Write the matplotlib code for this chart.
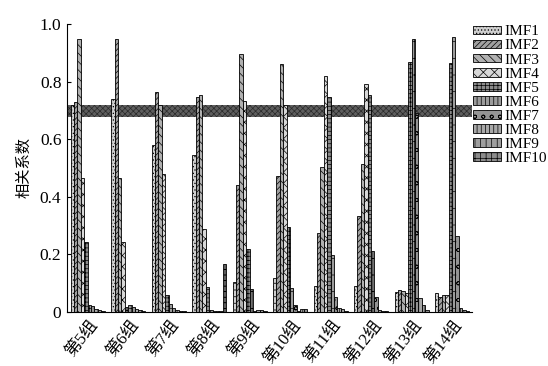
import numpy as np
import matplotlib
matplotlib.use('Agg')
import matplotlib.pyplot as plt

plt.rcParams['font.family'] = ['Liberation Serif', 'Noto Sans CJK SC']
plt.rcParams['hatch.linewidth'] = 0.5

groups = ['第5组', '第6组', '第7组', '第8组', '第9组',
          '第10组', '第11组', '第12组', '第13组', '第14组']
imf_names = ['IMF1', 'IMF2', 'IMF3', 'IMF4', 'IMF5',
             'IMF6', 'IMF7', 'IMF8', 'IMF9', 'IMF10']

# correlation of each IMF per group
g5 = [0.72, 0.73, 0.948, 0.465, 0.243, 0.024, 0.02, 0.012, 0.008, 0.004]
g6 = [0.74, 0.948, 0.465, 0.243, 0.019, 0.024, 0.017, 0.01, 0.006, 0.003]
g7 = [0.58, 0.763, 0.72, 0.478, 0.059, 0.028, 0.015, 0.008, 0.004, 0.002]
g8 = [0.545, 0.745, 0.753, 0.288, 0.087, 0.008, 0.005, 0.004, 0.003, 0.165]
g9 = [0.105, 0.44, 0.897, 0.733, 0.218, 0.08, 0.005, 0.008, 0.008, 0.004]
g10 = [0.118, 0.472, 0.86, 0.718, 0.294, 0.085, 0.024, 0.005, 0.01, 0.01]
g11 = [0.09, 0.274, 0.503, 0.818, 0.745, 0.198, 0.053, 0.013, 0.01, 0.005]
g12 = [0.09, 0.333, 0.515, 0.79, 0.753, 0.213, 0.053, 0.006, 0.003, 0.002]
g13 = [0.068, 0.075, 0.072, 0.065, 0.868, 0.948, 0.69, 0.048, 0.025, 0.007]
g14 = [0.067, 0.053, 0.058, 0.06, 0.863, 0.954, 0.265, 0.015, 0.007, 0.005]

band_low, band_high = 0.677, 0.719

vals = np.array([g5, g6, g7, g8, g9, g10, g11, g12, g13, g14])

faces = ['#cfcfcf', '#a0a0a0', '#b0b0b0', '#d8d8d8', '#8a8a8a',
         '#9c9c9c', '#949494', '#a8a8a8', '#9e9e9e', '#8c8c8c']
hatches = ['.....', '//////', '\\\\\\\\', 'xxx', '++++',
           '|||+', 'oo', '||||', '|||', '+++']

fig = plt.figure(figsize=(5.48, 3.66), dpi=100)
ax = fig.add_axes([0.1223, 0.1475, 0.7387, 0.787])

x = np.arange(len(groups))
w = 0.084
ax.axhspan(band_low, band_high, facecolor='#5e5e5e', edgecolor='#2a2a2a',
           hatch='xxxxxx', linewidth=0, zorder=1)
for j in range(10):
    ax.bar(x + (j - 4.5) * w, vals[:, j], width=w, facecolor=faces[j],
           edgecolor='black', hatch=hatches[j], linewidth=0.6,
           label=imf_names[j], zorder=2)

ax.set_xlim(-0.51, 9.49)
ax.set_ylim(0, 1.0)
ax.set_yticks([0, 0.2, 0.4, 0.6, 0.8, 1.0])
ax.set_yticklabels(['0', '0.2', '0.4', '0.6', '0.8', '1.0'])
ax.set_xticks(x + 0.03)
ax.set_xticklabels(groups, rotation=52, ha='right', va='top',
                   rotation_mode='anchor', fontsize=12)
ax.tick_params(axis='y', direction='in', length=3, pad=4, labelsize=12.5)
ax.tick_params(axis='x', length=0, pad=4)
ax.spines['top'].set_visible(False)
ax.spines['right'].set_visible(False)
ax.set_ylabel('相关系数', fontsize=11, labelpad=6)

ax.legend(loc='upper left', bbox_to_anchor=(1.003, 0.995), frameon=False,
          fontsize=11, handlelength=1.85, handleheight=0.5,
          labelspacing=0.07, handletextpad=0.2, borderaxespad=0,
          borderpad=0)

plt.savefig('out.png', dpi=100)
